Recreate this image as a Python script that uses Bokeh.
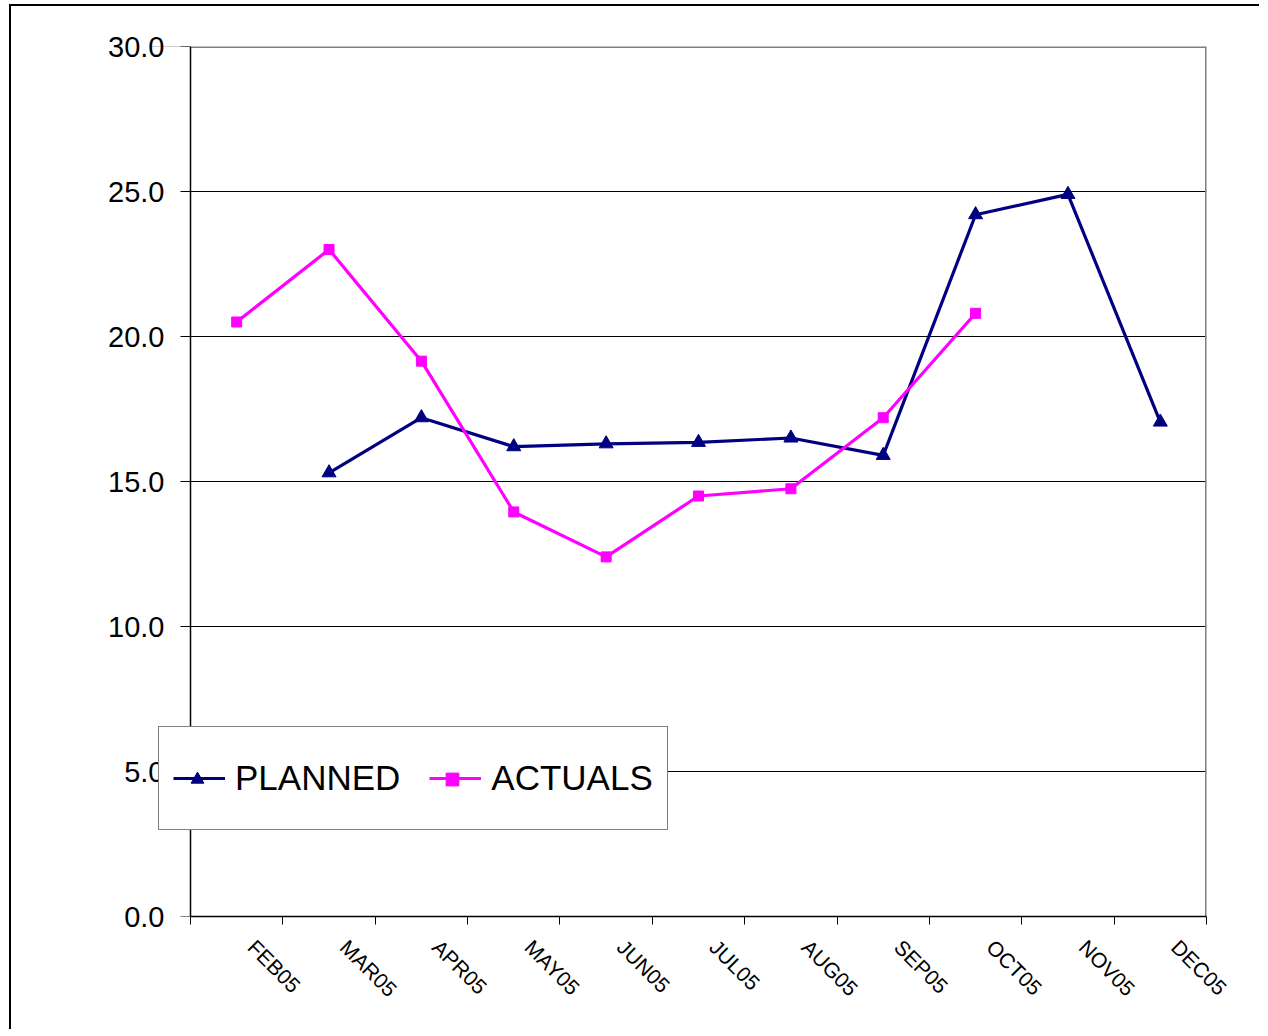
import math
from bokeh.plotting import figure
from bokeh.models import (Range1d, FixedTicker, NumeralTickFormatter, Legend, LegendItem,
                          LinearAxis, Span, BoxAnnotation)
from bokeh.embed import file_html
from bokeh.resources import INLINE

months = ["FEB05", "MAR05", "APR05", "MAY05", "JUN05", "JUL05",
          "AUG05", "SEP05", "OCT05", "NOV05", "DEC05"]
planned = [None, 15.3, 17.2, 16.2, 16.3, 16.35, 16.5, 15.9, 24.2, 24.9, 17.05]
actuals = [20.5, 23.0, 19.15, 13.95, 12.4, 14.5, 14.75, 17.2, 20.8, None, None]
y_ticks = [0, 5, 10, 15, 20, 25, 30]

NAVY = "#000080"
MAGENTA = "#FF00FF"
GRAY = "#808080"
FONT = "Liberation Sans"

n = len(months)
xs_p = [i + 0.5 for i, v in enumerate(planned) if v is not None]
ys_p = [v for v in planned if v is not None]
xs_a = [i + 0.5 for i, v in enumerate(actuals) if v is not None]
ys_a = [v for v in actuals if v is not None]

# The frame starts 40px left of the y axis so the legend box may overhang it.
frame_w = 1056
pad_px = 40
x_pad = pad_px * n / (frame_w - pad_px)

p = figure(width=1250, height=1025, output_backend="svg", toolbar_location=None,
           x_range=Range1d(-x_pad, n), y_range=Range1d(0, 30),
           min_border_left=139, min_border_right=55, min_border_top=40,
           min_border_bottom=115)
p.styles = {"border-left": "2px solid black", "border-top": "2px solid black",
            "margin-left": "9px", "margin-top": "4px"}

p.outline_line_color = None
p.background_fill_color = "white"
p.border_fill_color = "white"

# x axis: tick marks between months, labels near month centres
label_shift = 0.66
p.xaxis.ticker = FixedTicker(ticks=[i + label_shift for i in range(n)],
                             minor_ticks=list(range(n + 1)))
p.xaxis.major_label_overrides = {i + label_shift: m for i, m in enumerate(months)}
p.xaxis.bounds = (0, n)
p.xaxis.major_tick_line_color = None
p.xaxis.major_tick_out = 0
p.xaxis.major_tick_in = 0
p.xaxis.minor_tick_out = 8
p.xaxis.minor_tick_in = 0
p.xaxis.minor_tick_line_color = "black"
p.xaxis.major_label_orientation = -math.pi / 4
p.xaxis.major_label_text_font = FONT
p.xaxis.major_label_text_font_size = "21px"
p.xaxis.major_label_text_color = "black"
p.xaxis.major_label_standoff = 19
p.xaxis.axis_line_color = "black"
p.xaxis.axis_line_width = 1.5

# y axis labels (panel axis, shifted right to sit next to the axis line)
ylab = p.yaxis[0]
ylab.ticker = FixedTicker(ticks=y_ticks)
ylab.formatter = NumeralTickFormatter(format="0.0")
ylab.axis_line_color = None
ylab.major_tick_line_color = None
ylab.minor_tick_line_color = None
ylab.major_tick_out = 0
ylab.major_tick_in = 0
ylab.major_label_text_font = FONT
ylab.major_label_text_font_size = "29px"
ylab.major_label_text_color = "black"
ylab.major_label_standoff = -14

# y axis line and tick marks (no labels), pinned at x = 0
yline = LinearAxis(fixed_location=0, ticker=FixedTicker(ticks=[], minor_ticks=y_ticks),
                   major_tick_line_color=None,
                   minor_tick_out=10, minor_tick_in=0,
                   minor_tick_line_color="black", minor_tick_line_width=1,
                   axis_line_color="black", axis_line_width=1.5)
p.add_layout(yline, "left")

p.xgrid.grid_line_color = None
p.ygrid.ticker = FixedTicker(ticks=y_ticks[1:-1])
p.ygrid.grid_line_color = "black"
p.ygrid.grid_line_width = 1

# grey plot-area border on top and right
p.add_layout(Span(location=y_ticks[-1], dimension="width", line_color=GRAY,
                  line_width=3, level="underlay"))
p.add_layout(Span(location=n, dimension="height", line_color=GRAY,
                  line_width=3, level="underlay"))
# blank the strip left of the y axis
p.add_layout(BoxAnnotation(right=0, fill_color="white", fill_alpha=1.0,
                           line_color=None, level="underlay"))

lp = p.line(xs_p, ys_p, line_color=NAVY, line_width=3.2)
mp = p.scatter(xs_p, ys_p, marker="triangle", size=14, fill_color=NAVY, line_color=NAVY)
la = p.line(xs_a, ys_a, line_color=MAGENTA, line_width=3.2)
ma = p.scatter(xs_a, ys_a, marker="square", size=10, fill_color=MAGENTA, line_color=MAGENTA)

legend = Legend(items=[LegendItem(label="PLANNED", renderers=[lp]),
                       LegendItem(label="ACTUALS", renderers=[la])],
                orientation="horizontal", location=(8, 86), level="overlay",
                label_text_font=FONT, label_text_font_size="35px",
                label_text_color="black",
                padding=14, spacing=29, margin=0,
                glyph_width=52, glyph_height=74, label_height=74,
                label_width=160, label_standoff=10,
                border_line_color="black", border_line_width=1,
                background_fill_color="white", background_fill_alpha=1.0)
p.add_layout(legend, "center")

# legend markers (drawn over the centre of the legend lines at a smaller size)
legend_marks = Legend(items=[LegendItem(label=" ", renderers=[mp]),
                             LegendItem(label=" ", renderers=[ma])],
                      orientation="horizontal", location=(31, 117), level="overlay",
                      label_text_font=FONT, label_text_font_size="35px",
                      padding=0, spacing=53, margin=0,
                      glyph_width=32, glyph_height=40, label_height=40,
                      label_width=160, label_standoff=10,
                      border_line_color=None, background_fill_alpha=0.0)
p.add_layout(legend_marks, "center")

open("out.html", "w").write(file_html(p, INLINE))
